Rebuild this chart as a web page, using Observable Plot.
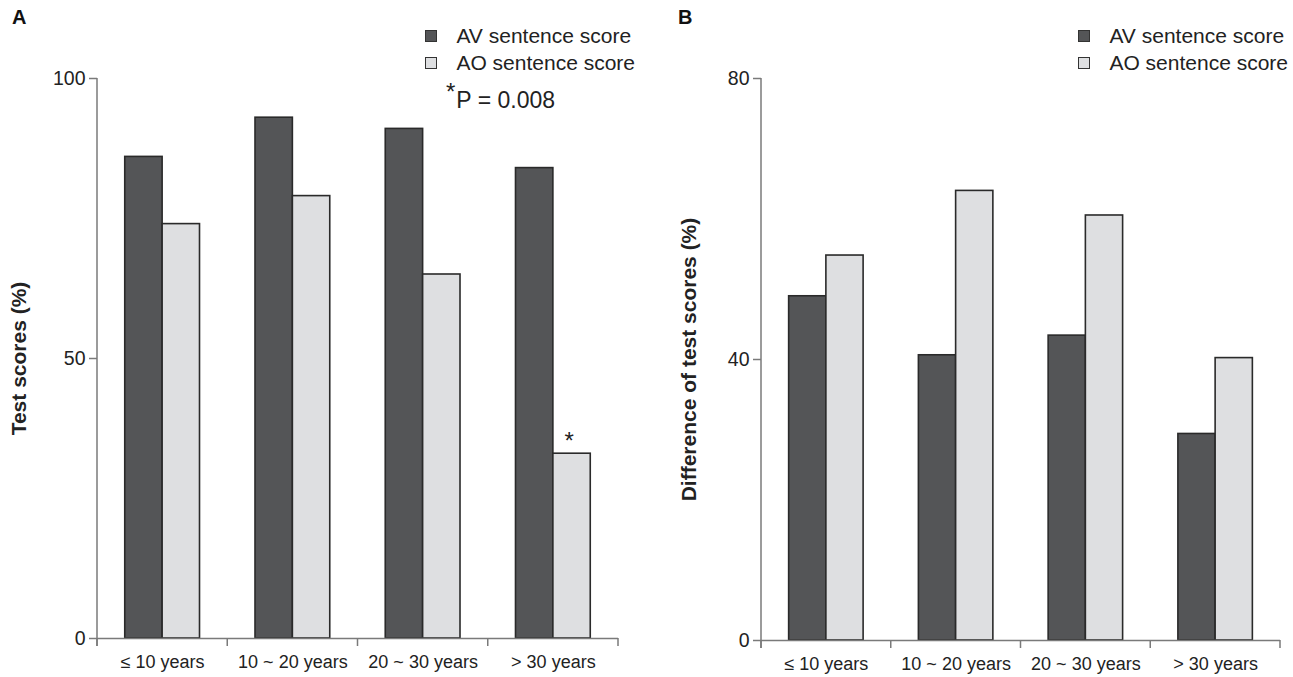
<!DOCTYPE html>
<html><head><meta charset="utf-8">
<script src="https://cdn.jsdelivr.net/npm/d3@7"></script>
<script src="https://cdn.jsdelivr.net/npm/@observablehq/plot@0.6"></script>
<style>
body{margin:0;background:#fff;font-family:"Liberation Sans",Arial,sans-serif;}
#wrap{position:relative;width:1293px;height:677px;overflow:hidden;background:#fff;}
.panel{position:absolute;top:0;height:677px;}
.panel svg{position:absolute;left:0;top:0;}
.letter{position:absolute;font-weight:bold;font-size:20px;color:#111;line-height:20px;}
.legend{position:absolute;font-size:21px;color:#222;}
.legend .row{display:flex;align-items:center;justify-content:flex-start;white-space:nowrap;height:27px;}
.legend .sw{width:12px;height:12px;border:1.5px solid #333;margin-right:19px;box-sizing:border-box;flex:none;}
.note{position:absolute;font-size:23px;color:#222;white-space:nowrap;line-height:23px;}
</style></head><body><div id="wrap"></div>
<script>
// ---- data ----
const categories = ["\u2264 10 years", "10 ~ 20 years", "20 ~ 30 years", "> 30 years"];
const series = ["AV sentence score", "AO sentence score"];
const scoresAV = [86, 93, 91, 84];
const scoresAO = [74, 79, 65, 33];
const scoresSig = ["", "", "", "*"];
const diffAV = [49, 40.6, 43.4, 29.4];
const diffAO = [54.8, 64, 60.5, 40.2];
const ticksA = [0, 50, 100];
const ticksB = [0, 40, 80];
const labelA = "Test scores (%)";
const labelB = "Difference of test scores (%)";
const noteA = "P = 0.008";

// ---- style ----
const colAV = "#545557";
const colAO = "#dedfe1";
const edge = "#2a2a2a";
const axisColor = "#7a7a7a";
const font = "Liberation Sans, Arial, sans-serif";

const wrap = document.getElementById("wrap");

function makeRows(av, ao, sig) {
  return categories.flatMap((c, i) => [
    {category: c, series: series[0], value: av[i], sig: ""},
    {category: c, series: series[1], value: ao[i], sig: sig ? sig[i] : ""}
  ]);
}

function panel({left, width, ml, mr, mt, mb, yMax, yTicks, av, ao, sig, yLabel, labelDx}) {
  const height = 677;
  const rows = makeRows(av, ao, sig);
  const bw = (width - ml - mr) / categories.length;
  const barW = 0.287 * bw;
  const gap = (bw - 2 * barW) / 2;
  const axisMark = (index, scales) => {
    const {x, y} = scales;
    const g = d3.create("svg:g").attr("stroke", axisColor).attr("stroke-width", 1.5).attr("fill", "none");
    const [x0] = x.range();
    const y0 = y(0), yTop = y(yMax);
    g.append("line").attr("x1", x0).attr("x2", x0).attr("y1", yTop).attr("y2", y0 + 8);
    const bounds = categories.map(c => x(c)).concat([x(categories[categories.length - 1]) + x.bandwidth()]);
    for (const b of bounds) g.append("line").attr("x1", b).attr("x2", b).attr("y1", y0).attr("y2", y0 + 8);
    return g.node();
  };
  const svg = Plot.plot({
    width, height,
    marginLeft: ml, marginRight: mr, marginTop: mt, marginBottom: mb,
    style: {fontFamily: font, color: "#222", background: "transparent", overflow: "visible"},
    x: {domain: categories, padding: 0, round: false, label: null},
    y: {domain: [0, yMax], label: null},
    marks: [
      Plot.barY(rows.filter(d => d.series === series[0]), {
        x: "category", y: "value", fill: colAV, stroke: edge, strokeWidth: 1.6,
        insetLeft: gap, insetRight: gap + barW
      }),
      Plot.barY(rows.filter(d => d.series === series[1]), {
        x: "category", y: "value", fill: colAO, stroke: edge, strokeWidth: 1.6,
        insetLeft: gap + barW, insetRight: gap
      }),
      Plot.text(rows.filter(d => d.sig), {
        x: "category", y: "value", text: "sig", dx: barW / 2 - 3, dy: -5,
        lineAnchor: "bottom", fontSize: 24, fill: "#222"
      }),
      Plot.ruleY([0], {stroke: axisColor, strokeWidth: 1.5}),
      axisMark,
      Plot.axisY({ticks: yTicks, tickSize: 8, tickPadding: 4, fontSize: 19.5, stroke: axisColor, strokeWidth: 1.5, label: null}),
      Plot.axisX({tickSize: 0, tickPadding: 17, fontSize: 18, label: null}),
      Plot.text([yLabel], {frameAnchor: "left", textAnchor: "middle", rotate: -90, dx: labelDx, fontSize: 21, fontWeight: "bold", fill: "#222"})
    ]
  });
  const div = document.createElement("div");
  div.className = "panel";
  div.style.left = left + "px";
  div.style.width = width + "px";
  div.appendChild(svg);
  wrap.appendChild(div);
}

panel({left: 0, width: 646, ml: 97, mr: 28, mt: 78, mb: 39, yMax: 100, yTicks: ticksA,
       av: scoresAV, ao: scoresAO, sig: scoresSig, yLabel: labelA, labelDx: -78});
panel({left: 646, width: 647, ml: 115, mr: 13, mt: 78, mb: 37, yMax: 80, yTicks: ticksB,
       av: diffAV, ao: diffAO, sig: null, yLabel: labelB, labelDx: -72});

function legend(rightEdge, top) {
  const lg = document.createElement("div");
  lg.className = "legend";
  lg.style.right = (1293 - rightEdge) + "px";
  lg.style.top = top + "px";
  [[series[0], colAV], [series[1], colAO]].forEach(([name, col]) => {
    const r = document.createElement("div");
    r.className = "row";
    const sw = document.createElement("div");
    sw.className = "sw";
    sw.style.background = col;
    const t = document.createElement("span");
    t.textContent = name;
    r.appendChild(sw); r.appendChild(t);
    lg.appendChild(r);
  });
  wrap.appendChild(lg);
}
legend(635, 22);
legend(1288, 22);

function addDiv(cls, html, left, top) {
  const d = document.createElement("div");
  d.className = cls;
  d.innerHTML = html;
  d.style.left = left + "px";
  d.style.top = top + "px";
  wrap.appendChild(d);
}
addDiv("letter", "A", 12, 7);
addDiv("letter", "B", 678, 7);
addDiv("note", '<span style="font-size:24px;position:relative;top:-8px;margin-right:1px">*</span>' + noteA, 446, 88);
</script></body></html>
